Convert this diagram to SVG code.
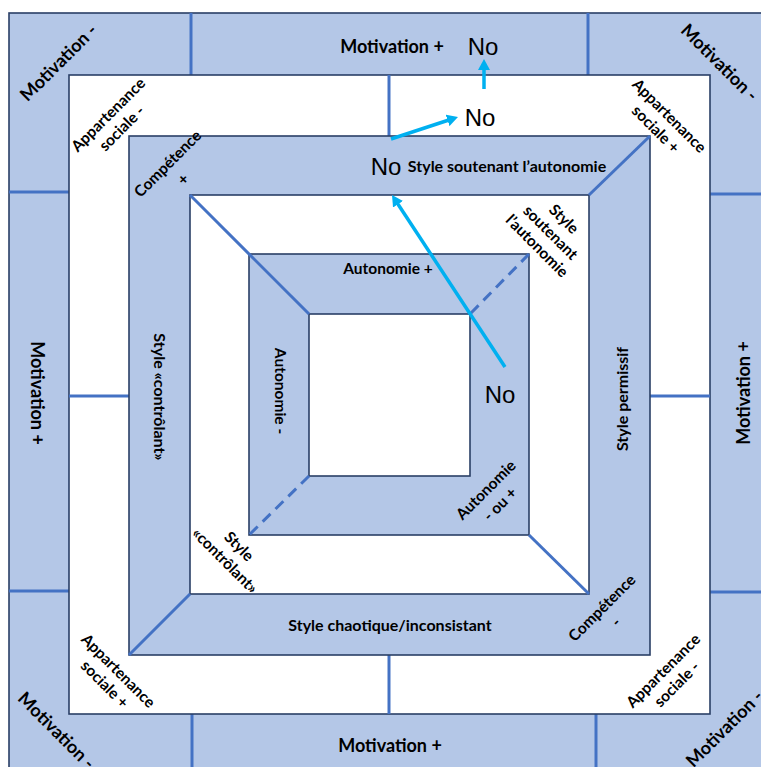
<svg xmlns="http://www.w3.org/2000/svg" width="761" height="767" viewBox="0 0 761 767">
  <style>
    .band { fill: #B4C7E7; stroke: #2A3F66; stroke-width: 1.6; }
    .hole { fill: #FFFFFF; stroke: #2A3F66; stroke-width: 1.6; }
    .div { stroke: #4472C4; stroke-width: 3; fill: none; }
    .dash { stroke: #4472C4; stroke-width: 3; fill: none; stroke-dasharray: 11 7; }
    .arrow { stroke: #00B0F0; stroke-width: 3.5; fill: none; marker-end: url(#head); }
    text { font-family: Lato, "Liberation Sans", sans-serif; font-weight: 700; fill: #000; text-anchor: middle; dominant-baseline: central; }
    .mot { font-size: 18px; }
    .lbl { font-size: 16px; }
    .sm { font-size: 15.5px; }
    .no { font-family: "Liberation Sans", Arial, sans-serif; font-weight: 400; font-size: 24px; }
  </style>
  <defs>
    <marker id="head" markerUnits="userSpaceOnUse" markerWidth="12" markerHeight="12" refX="3" refY="6" orient="auto">
      <path d="M0,0 L11,6 L0,12 z" fill="#00B0F0"/>
    </marker>
  </defs>

  <rect width="761" height="767" fill="#FFFFFF"/>

  <!-- nested bands, outermost first -->
  <g id="ring-motivation">
    <rect class="band" x="9" y="13" width="761" height="763"/>
    <line class="div" x1="191" y1="13" x2="191" y2="75"/>
    <line class="div" x1="588" y1="13" x2="588" y2="75"/>
    <line class="div" x1="192" y1="714" x2="192" y2="767"/>
    <line class="div" x1="596" y1="714" x2="596" y2="767"/>
    <line class="div" x1="9" y1="192" x2="69" y2="192"/>
    <line class="div" x1="9" y1="591" x2="69" y2="591"/>
    <line class="div" x1="710" y1="194" x2="761" y2="194"/>
    <line class="div" x1="710" y1="592" x2="761" y2="592"/>
  </g>
  <g id="ring-appartenance">
    <rect class="hole" x="69" y="75" width="641" height="639"/>
    <line class="div" x1="389" y1="75" x2="389" y2="136"/>
    <line class="div" x1="389" y1="655" x2="389" y2="714"/>
    <line class="div" x1="69" y1="396" x2="129" y2="396"/>
    <line class="div" x1="650" y1="396" x2="710" y2="396"/>
  </g>
  <g id="ring-style">
    <rect class="band" x="129" y="136" width="521" height="519"/>
  </g>
  <g id="ring-competence">
    <rect class="hole" x="190" y="195" width="399" height="399"/>
  </g>
  <g id="ring-autonomie">
    <rect class="band" x="249" y="254" width="280" height="281"/>
  </g>
  <g id="core">
    <rect class="hole" x="309" y="314" width="161" height="162"/>
  </g>

  <!-- corner diagonals -->
  <g id="diagonals">
    <line class="div" x1="190" y1="195" x2="309" y2="314"/>
    <line class="div" x1="650" y1="136" x2="589" y2="195"/>
    <line class="dash" x1="529" y1="254" x2="470" y2="314"/>
    <line class="div" x1="529" y1="535" x2="589" y2="594"/>
    <line class="div" x1="190" y1="594" x2="129" y2="655"/>
    <line class="dash" x1="309" y1="476" x2="249" y2="535"/>
  </g>

  <!-- labels -->
  <g id="motivation-labels">
    <text class="mot" x="392" y="46">Motivation +</text>
    <text class="mot" x="390" y="745">Motivation +</text>
    <text class="mot" transform="translate(38,393) rotate(90)">Motivation +</text>
    <text class="mot" transform="translate(743,393) rotate(-90)">Motivation +</text>
    <text class="mot" transform="translate(58,62) rotate(-45)">Motivation -</text>
    <text class="mot" transform="translate(720,62) rotate(45)">Motivation -</text>
    <text class="mot" transform="translate(57,730) rotate(45)">Motivation -</text>
    <text class="mot" transform="translate(724,728) rotate(-45)">Motivation -</text>
  </g>

  <g id="appartenance-labels">
    <g transform="translate(114.5,121) rotate(-45)">
      <text class="sm" y="-9.5">Appartenance</text>
      <text class="sm" y="9.5">sociale -</text>
    </g>
    <g transform="translate(663,122) rotate(45)">
      <text class="sm" y="-9.5">Appartenance</text>
      <text class="sm" y="9.5">sociale +</text>
    </g>
    <g transform="translate(112,677) rotate(45)">
      <text class="sm" y="-9.5">Appartenance</text>
      <text class="sm" y="9.5">sociale +</text>
    </g>
    <g transform="translate(669.5,677) rotate(-45)">
      <text class="sm" y="-9.5">Appartenance</text>
      <text class="sm" y="9.5">sociale -</text>
    </g>
  </g>

  <g id="style-labels">
    <text class="lbl" x="507" y="165">Style soutenant l’autonomie</text>
    <text class="lbl" x="390" y="624">Style chaotique/inconsistant</text>
    <text class="lbl" transform="translate(160,397) rotate(90)">Style «contrôlant»</text>
    <text class="lbl" transform="translate(621,399) rotate(-90)">Style permissif</text>
  </g>

  <g id="competence-labels">
    <g transform="translate(175,171) rotate(-45)">
      <text class="sm" y="-11">Compétence</text>
      <text class="sm" y="11">+</text>
    </g>
    <g transform="translate(608.5,614.5) rotate(-45)">
      <text class="sm" y="-10">Compétence</text>
      <text class="sm" y="10">-</text>
    </g>
    <g transform="translate(551,232) rotate(45)">
      <text class="sm" y="-19">Style</text>
      <text class="sm" y="0">soutenant</text>
      <text class="sm" y="19">l’autonomie</text>
    </g>
    <g transform="translate(232.5,553) rotate(45)">
      <text class="sm" y="-10">Style</text>
      <text class="sm" y="10">«contrôlant»</text>
    </g>
  </g>

  <g id="autonomie-labels">
    <text class="sm" x="388" y="268">Autonomie +</text>
    <text class="sm" transform="translate(281,391) rotate(90)">Autonomie -</text>
    <g transform="translate(492.5,496.5) rotate(-45)">
      <text class="sm" y="-10">Autonomie</text>
      <text class="sm" y="10">- ou +</text>
    </g>
  </g>

  <g id="no-labels">
    <text class="no" x="483" y="46">No</text>
    <text class="no" x="480" y="117">No</text>
    <text class="no" x="386" y="166">No</text>
    <text class="no" x="500" y="394">No</text>
  </g>

  <g id="connectors">
    <line class="arrow" x1="484" y1="89" x2="484" y2="67"/>
    <line class="arrow" x1="391" y1="139" x2="450.4" y2="119.5"/>
    <line class="arrow" x1="505" y1="367" x2="396.4" y2="201.7"/>
  </g>
</svg>
